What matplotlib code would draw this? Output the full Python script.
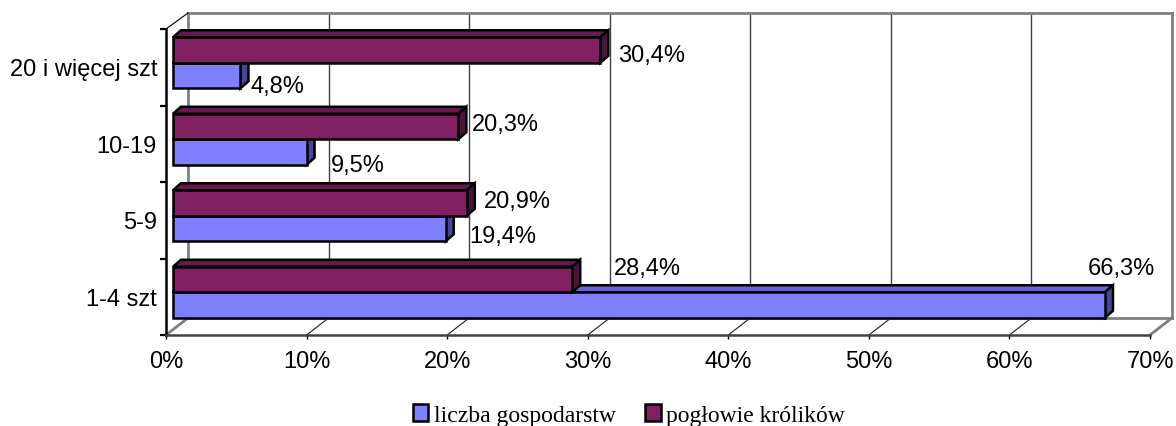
import matplotlib
matplotlib.use('Agg')
import matplotlib.pyplot as plt
from matplotlib.patches import Polygon, Patch

categories = ['1-4 szt', '5-9', '10-19', '20 i więcej szt']
gospodarstwa = [66.3, 19.4, 9.5, 4.8]
kroliki = [28.4, 20.9, 20.3, 30.4]
xticks = [0, 10, 20, 30, 40, 50, 60, 70]

blue = {'front': '#8080ff', 'top': '#6666cc', 'side': '#474799'}
purple = {'front': '#802060', 'top': '#66194d', 'side': '#4d133a'}

W, H = 1176, 427
fig = plt.figure(figsize=(W/100., H/100.), dpi=100)
plt.rcParams['font.family'] = ['Liberation Sans', 'DejaVu Sans']
ax = fig.add_axes([166./W, 1-336./H, 984./W, 306./H])
ax.set_xlim(0, 70)
ax.set_ylim(0, 4)
ax.patch.set_visible(False)

# one pixel in data units
px = 70/984.
py = 4/306.

# back wall and floor, offset into the depth of the chart
wall_x, wall_y = 22*px, 17*py
top_wall = 4 + 16*py
for tick in xticks:
    edge = tick in (0, 70)
    ax.plot([tick+wall_x]*2, [wall_y, top_wall], color='#808080' if edge else '#404040',
            lw=2 if edge else 1, zorder=1, clip_on=False, solid_capstyle='projecting')
    ax.plot([tick, tick+wall_x], [0, wall_y], color='#808080' if edge else '#202020',
            lw=2 if edge else 0.8, zorder=1, clip_on=False)
ax.plot([wall_x, 70+wall_x], [wall_y, wall_y], color='#808080', lw=2, zorder=1,
        clip_on=False)
ax.plot([wall_x, 70+wall_x], [top_wall, top_wall], color='#808080', lw=2, zorder=1,
        clip_on=False)
ax.plot([0, wall_x], [4, top_wall], color='k', lw=0.8, zorder=1, clip_on=False)


def draw_bars(values, ypos, colors):
    """front, top and side faces of one series"""
    dx, dy = 8*px, 7*py
    x0 = 7*px
    for y, val in zip(ypos, values):
        x1 = x0 + val
        y0 = y - bar_h/2.
        y1 = y + bar_h/2.
        ax.add_patch(Polygon([(x0, y1), (x0+dx, y1+dy), (x1+dx, y1+dy), (x1, y1)],
                             fc=colors['top'], ec='k', lw=1.8, zorder=3,
                             clip_on=False, joinstyle='miter'))
        ax.add_patch(Polygon([(x1, y0), (x1+dx, y0+dy), (x1+dx, y1+dy), (x1, y1)],
                             fc=colors['side'], ec='k', lw=1.8, zorder=3,
                             clip_on=False, joinstyle='miter'))
    ax.barh(ypos, values, height=bar_h, left=x0, color=colors['front'],
            edgecolor='k', linewidth=1.8, zorder=4, clip_on=False)


bar_h = 25.5*py
centre = [i + 0.5 + 4.5*py for i in range(len(categories))]
draw_bars(gospodarstwa, [c - bar_h/2. for c in centre], blue)
draw_bars(kroliki, [c + bar_h/2. for c in centre], purple)

# value labels, shifted by hand like in the original chart
shift_g = [(-17, 37), (24, -8), (24, -13), (10, -10)]
shift_k = [(42, 11), (17, 2), (14, 3), (18, -5)]
for i in range(len(categories)):
    for vals, shift, sign in ((gospodarstwa, shift_g, -1), (kroliki, shift_k, 1)):
        ax.annotate(('%.1f' % vals[i]).replace('.', ',') + '%',
                    xy=(vals[i] + 7*px, centre[i] + sign*bar_h/2.),
                    xytext=shift[i], textcoords='offset pixels',
                    fontsize=17, va='center', ha='left', zorder=6,
                    annotation_clip=False)

for side in ('top', 'right'):
    ax.spines[side].set_visible(False)
ax.spines['left'].set_linewidth(1.8)
ax.spines['left'].set_color('k')
ax.spines['bottom'].set_linewidth(1.8)
ax.spines['bottom'].set_color('#404040')

ax.set_xticks(xticks)
ax.set_xticklabels(['%d%%' % t for t in xticks], fontsize=17)
ax.set_yticks(range(5))
ax.set_yticklabels([])
ax.tick_params(axis='x', length=3, width=1, pad=8, color='k')
ax.tick_params(axis='y', length=4, width=1.6, color='k')
for i, cat in enumerate(categories):
    ax.annotate(cat, xy=(0, i+0.5), xytext=(-9, -8), textcoords='offset pixels',
                ha='right', va='baseline', fontsize=17)

handles = [Patch(fc=blue['front'], ec='k', lw=1.8, label='liczba gospodarstw'),
           Patch(fc=purple['front'], ec='k', lw=1.8, label='pogłowie królików')]
fig.legend(handles=handles, loc='center', bbox_to_anchor=(629./W, 1-416./H), ncol=2,
           frameon=False, handlelength=0.65, handleheight=0.7, handletextpad=0.25,
           columnspacing=1.24, prop={'family': 'Liberation Serif', 'size': 17})

fig.savefig('out.png', dpi=100)
